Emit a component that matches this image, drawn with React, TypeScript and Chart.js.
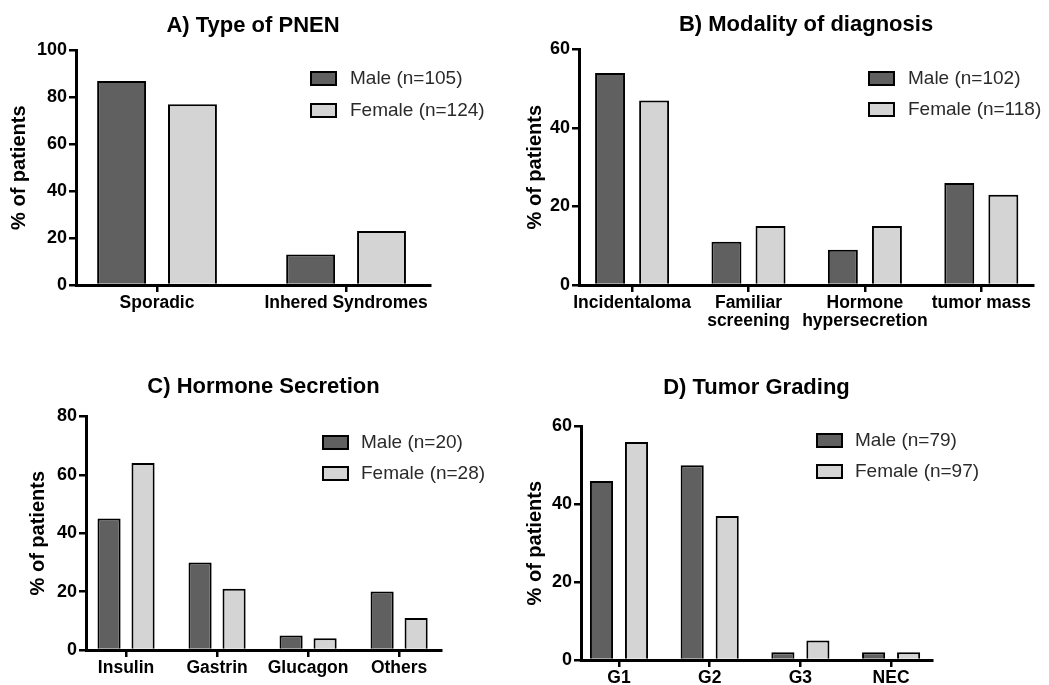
import React, { useEffect, useRef } from "react";
import { Chart, registerables } from "chart.js";

Chart.register(...registerables);

// ---------- data ----------
const panelATitle = "A) Type of PNEN";
const panelACategories: (string | string[])[] = ["Sporadic", "Inhered Syndromes"];
const panelAMale = [87, 13];
const panelAFemale = [77, 23];
const panelALegend = ["Male (n=105)", "Female (n=124)"];
const panelAMax = 100;

const panelBTitle = "B) Modality of diagnosis";
const panelBCategories: (string | string[])[] = ["Incidentaloma", ["Familiar", "screening"], ["Hormone", "hypersecretion"], "tumor mass"];
const panelBMale = [54, 11, 9, 26];
const panelBFemale = [47, 15, 15, 23];
const panelBLegend = ["Male (n=102)", "Female (n=118)"];
const panelBMax = 60;

const panelCTitle = "C) Hormone Secretion";
const panelCCategories: (string | string[])[] = ["Insulin", "Gastrin", "Glucagon", "Others"];
const panelCMale = [45, 30, 5, 20];
const panelCFemale = [64, 21, 4, 11];
const panelCLegend = ["Male (n=20)", "Female (n=28)"];
const panelCMax = 80;

const panelDTitle = "D) Tumor Grading";
const panelDCategories: (string | string[])[] = ["G1", "G2", "G3", "NEC"];
const panelDMale = [46, 50, 2, 2];
const panelDFemale = [56, 37, 5, 2];
const panelDLegend = ["Male (n=79)", "Female (n=97)"];
const panelDMax = 60;

const yAxisTitle = "% of patients";
const yStep = 20;

// ---------- styles ----------
const FAMILY = '"Liberation Sans", Arial, sans-serif';
const MALE_COLOR = "#606060";
const FEMALE_COLOR = "#d4d4d4";

type Layout = {
  left: number; top: number; w: number; h: number;
  yWidth: number; xHeight: number; padRight: number;
  titleTop: number; titleBottom: number; yTitlePad: number;
  legX: number; legY: number; legTextX: number; legGap: number;
  catPct: number; barPct: number;
  xLo: number; xHi: number; // category axis range (in category units)
};

type Panel = {
  title: string; categories: (string | string[])[]; male: number[]; female: number[];
  legend: string[]; max: number; layout: Layout;
};

const panels: Panel[] = [
  {
    title: panelATitle, categories: panelACategories, male: panelAMale, female: panelAFemale,
    legend: panelALegend, max: panelAMax,
    layout: { left: 0, top: 0, w: 520, h: 335, yWidth: 76, xHeight: 50, padRight: 90,
      titleTop: 13, titleBottom: 11, yTitlePad: 7, legX: 310, legY: 71, legTextX: 350, legGap: 32,
      catPct: 0.75, barPct: 0.69, xLo: -0.4286, xHi: 1.444 },
  },
  {
    title: panelBTitle, categories: panelBCategories, male: panelBMale, female: panelBFemale,
    legend: panelBLegend, max: panelBMax,
    layout: { left: 520, top: 0, w: 529, h: 335, yWidth: 59, xHeight: 50, padRight: 16,
      titleTop: 12, titleBottom: 11, yTitlePad: 3, legX: 348, legY: 71, legTextX: 388, legGap: 31,
      catPct: 0.757, barPct: 0.68, xLo: -0.456, xHi: 3.444 },
  },
  {
    title: panelCTitle, categories: panelCCategories, male: panelCMale, female: panelCFemale,
    legend: panelCLegend, max: panelCMax,
    layout: { left: 0, top: 335, w: 520, h: 350, yWidth: 86, xHeight: 35, padRight: 79,
      titleTop: 39, titleBottom: 16, yTitlePad: 26, legX: 322, legY: 100, legTextX: 361, legGap: 31,
      catPct: 0.747, barPct: 0.68, xLo: -0.44, xHi: 3.46 },
  },
  {
    title: panelDTitle, categories: panelDCategories, male: panelDMale, female: panelDFemale,
    legend: panelDLegend, max: panelDMax,
    layout: { left: 520, top: 335, w: 529, h: 350, yWidth: 61, xHeight: 25, padRight: 117,
      titleTop: 40, titleBottom: 25, yTitlePad: 3, legX: 296, legY: 98, legTextX: 335, legGap: 31,
      catPct: 0.772, barPct: 0.66, xLo: -0.419, xHi: 3.451 },
  },
];

const boxLegend = {
  id: "boxLegend",
  afterDraw(chart: any, _args: any, opts: any) {
    const ctx = chart.ctx;
    ctx.save();
    chart.data.datasets.forEach((ds: any, i: number) => {
      const y = opts.y + i * opts.gap;
      ctx.fillStyle = ds.backgroundColor;
      ctx.fillRect(opts.x, y, 27, 15);
      ctx.strokeStyle = "#000";
      ctx.lineWidth = 2;
      ctx.strokeRect(opts.x + 1, y + 1, 25, 13);
      ctx.fillStyle = "#2a2a2a";
      ctx.font = `19px ${FAMILY}`;
      ctx.textBaseline = "middle";
      ctx.textAlign = "left";
      ctx.fillText(ds.label, opts.textX, y + 8);
    });
    ctx.restore();
  },
};

function makeConfig(p: Panel): any {
  const L = p.layout;
  return {
    type: "bar",
    data: {
      labels: p.categories,
      datasets: [
        { label: p.legend[0], data: p.male, backgroundColor: MALE_COLOR, borderColor: "#000", borderWidth: 2,
          categoryPercentage: L.catPct, barPercentage: L.barPct },
        { label: p.legend[1], data: p.female, backgroundColor: FEMALE_COLOR, borderColor: "#000", borderWidth: 2,
          categoryPercentage: L.catPct, barPercentage: L.barPct },
      ],
    },
    options: {
      responsive: false,
      animation: false,
      devicePixelRatio: 1,
      layout: { padding: { left: 0, right: L.padRight, top: 0, bottom: 0 } },
      plugins: {
        legend: { display: false },
        tooltip: { enabled: false },
        title: {
          display: true, text: p.title, fullSize: false, color: "#000",
          font: { family: FAMILY, size: 22, weight: "bold", lineHeight: 1.2 },
          padding: { top: L.titleTop, bottom: L.titleBottom },
        },
        boxLegend: { x: L.legX, y: L.legY, textX: L.legTextX, gap: L.legGap },
      },
      scales: {
        x: {
          type: "category",
          offset: true,
          afterBuildTicks(scale: any) {
            scale._startValue = L.xLo;
            scale._valueRange = L.xHi - L.xLo;
          },
          afterFit(scale: any) { scale.height = L.xHeight; },
          grid: { offset: false, drawOnChartArea: false, drawTicks: true, tickLength: 7, color: "#000", lineWidth: 2.5 },
          border: { display: true, color: "#000", width: 3 },
          ticks: { color: "#000", padding: 2, maxRotation: 0, autoSkip: false,
            font: { family: FAMILY, size: 17.5, weight: "bold", lineHeight: 1.05 } },
        },
        y: {
          min: 0, max: p.max,
          afterFit(scale: any) { scale.width = L.yWidth; },
          grid: { drawOnChartArea: false, drawTicks: true, tickLength: 7, color: "#000", lineWidth: 2.5 },
          border: { display: true, color: "#000", width: 3 },
          ticks: { stepSize: yStep, color: "#000", padding: 2,
            font: { family: FAMILY, size: 18, weight: "bold" } },
          title: { display: true, text: yAxisTitle, color: "#000", padding: { top: L.yTitlePad, bottom: 0 },
            font: { family: FAMILY, size: 20, weight: "bold", lineHeight: 1.2 } },
        },
      },
    },
    plugins: [boxLegend],
  };
}

export default function App() {
  const refs = useRef<(HTMLCanvasElement | null)[]>([]);

  useEffect(() => {
    const charts = panels.map((p, i) => {
      const c = refs.current[i]!;
      return new Chart(c, makeConfig(p));
    });
    return () => charts.forEach((c) => c.destroy());
  }, []);

  return (
    <div style={{ position: "absolute", left: 0, top: 0, width: 1049, height: 685, background: "#fff", overflow: "hidden" }}>
      {panels.map((p, i) => (
        <canvas
          key={i}
          ref={(el) => { refs.current[i] = el; }}
          width={p.layout.w}
          height={p.layout.h}
          style={{ position: "absolute", left: p.layout.left, top: p.layout.top, width: p.layout.w, height: p.layout.h }}
        />
      ))}
    </div>
  );
}
